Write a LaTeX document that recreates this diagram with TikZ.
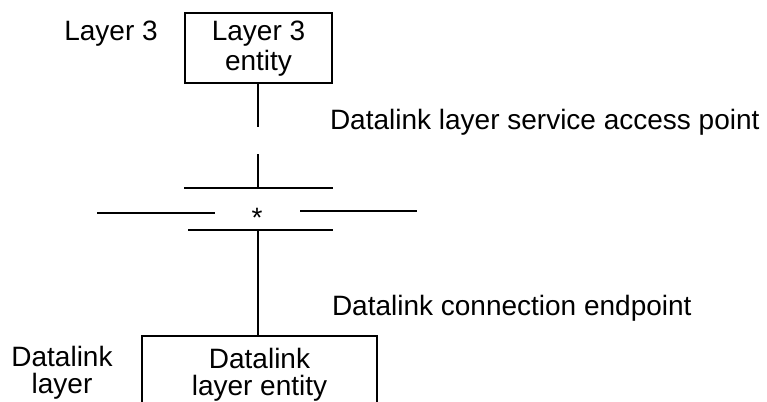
\documentclass[tikz,border=0pt]{standalone}
\usepackage{fontspec}
\setmainfont{Liberation Sans}
\begin{document}
\begin{tikzpicture}[x=1pt,y=-1pt,line width=2pt,
  lbl/.style={font=\fontsize{28}{31}\selectfont,inner sep=0pt,anchor=base,align=center},
  ebox/.style={draw,line width=2pt,inner sep=0pt,font=\fontsize{28}{31}\selectfont,align=center}]
\useasboundingbox (0,0) rectangle (767,401);
\clip (0,0) rectangle (767,401);
% top entity box
\node[ebox,minimum width=147pt,minimum height=70pt] (l3) at (258.5,48.5) {};
\node[lbl] (l3t1) at (258.5,41) {Layer 3};
\node[lbl] (l3t2) at (258.5,71) {entity};
\node[lbl] (l3lab) at (111,41) {Layer 3};
% bottom entity box (open at the bottom)
\node[ebox,minimum width=235pt,minimum height=70pt] (dl) at (259.5,371) {};
\node[lbl] (dlt1) at (259.5,368) {Datalink};
\node[lbl] (dlt2) at (259.5,395) {layer entity};
\node[lbl] (dllab) at (62,366) {Datalink};
\node[lbl] (dllab2) at (62,393) {layer};
% labels
\node[lbl,anchor=base west] (sap) at (329,129) {Datalink layer service access point};
\node[lbl,anchor=base west] (cep) at (331,315) {Datalink connection endpoint};
% SAP structure
\coordinate (v1) at (258,127);
\coordinate (v2a) at (258,154);
\coordinate (v2b) at (258,188);
\coordinate (v3) at (258,230);
\draw (l3.south -| v1) -- (v1);
\draw (v2a) -- (v2b);
\draw (184,188) -- (333,188);
\draw (97,213) -- (215,213);
\draw (300,211) -- (417,211);
\draw (188,230) -- (333,230);
\node[lbl] (star) at (257,227) {*};
\draw (v3) -- (dl.north -| v3);
\end{tikzpicture}
\end{document}
